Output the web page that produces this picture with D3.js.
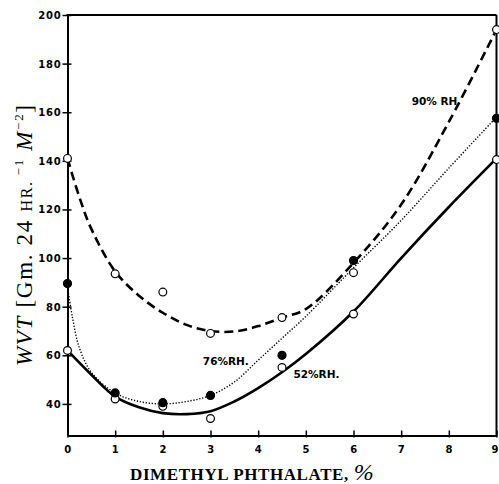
<!DOCTYPE html>
<html><head><meta charset="utf-8">
<script src="https://cdn.jsdelivr.net/npm/d3@7"></script>
<style>
html,body{margin:0;padding:0;background:#fff;}
svg{display:block;}
</style></head>
<body>
<svg id="chart" width="499" height="484"></svg>
<script>
// ---- data ----
const xPoints = [0, 1, 2, 3, 4.5, 6, 9];
const rh90 = [141, 93.5, 86, 69, 75.5, 94, 194];
const rh76 = [89.5, 44.5, 40.5, 43.5, 60, 99, 157.5];
const rh52 = [62, 42, 39, 34, 55, 77, 140.5];

const fit90X = [0, 0.25, 0.5, 1, 1.5, 2, 2.5, 3, 3.5, 4, 4.5, 5, 6, 7, 8, 9];
const fit90Y = [141, 125, 112, 94.5, 84.5, 77.5, 72.5, 70, 69.8, 72, 75.5, 79, 98, 122, 156, 194];
const fit76X = [0, 0.1, 0.25, 0.5, 1, 1.5, 2, 2.5, 3, 3.5, 4, 4.5, 5, 6, 7, 8, 9];
const fit76Y = [88, 76, 63, 53, 44.5, 41, 40, 41, 43.5, 49, 58, 67, 76, 96, 115.5, 137, 158];
const fit52X = [0, 0.5, 1, 1.5, 2, 2.5, 3, 3.5, 4, 4.5, 5, 6, 7, 8, 9];
const fit52Y = [62, 52, 43, 38.6, 36.2, 35.8, 37, 41, 46.5, 53, 60.5, 78, 100, 121, 141];

const xTicks = [0, 1, 2, 3, 4, 5, 6, 7, 8, 9];
const yTicks = [40, 60, 80, 100, 120, 140, 160, 180, 200];
const curveLabels = [
  {text: "90% RH", x: 7.22, y: 163},
  {text: "76%RH.", x: 2.84, y: 56},
  {text: "52%RH.", x: 4.74, y: 50.5}
];

// ---- drawing ----
const svg = d3.select("#chart");
const x = d3.scaleLinear().domain([0, 9]).range([67.5, 496.5]);
const y = d3.scaleLinear().domain([27, 200]).range([435.5, 15]);

const line = d3.line().x(d => x(d[0])).y(d => y(d[1])).curve(d3.curveCatmullRom.alpha(0.5));
function pairs(xs, ys){ return xs.map((v,i)=>[v, ys[i]]); }

// curves
svg.append("path").attr("d", line(pairs(fit90X, fit90Y)))
  .attr("fill","none").attr("stroke","#000").attr("stroke-width",2.6).attr("stroke-dasharray","9,5");
svg.append("path").attr("d", line(pairs(fit76X, fit76Y)))
  .attr("fill","none").attr("stroke","#000").attr("stroke-width",1.4).attr("stroke-dasharray","1.3,1.7");
svg.append("path").attr("d", line(pairs(fit52X, fit52Y)))
  .attr("fill","none").attr("stroke","#000").attr("stroke-width",2.6);

// axes
const gx = svg.append("g").attr("transform", `translate(0,${y(27)})`)
  .call(d3.axisBottom(x).tickValues(xTicks).tickSizeInner(-5).tickSizeOuter(0).tickPadding(10).tickFormat(d3.format("d")));
const gy = svg.append("g").attr("transform", `translate(${x(0)},0)`)
  .call(d3.axisLeft(y).tickValues(yTicks).tickSizeInner(5).tickSizeOuter(0).tickPadding(1).tickFormat(d3.format("d")));
[gx, gy].forEach(g => {
  g.select(".domain").attr("stroke","#000").attr("stroke-width",2);
  g.selectAll(".tick line").attr("stroke","#000").attr("stroke-width",1.5);
  g.selectAll(".tick text").attr("fill","#000")
    .style("font-family","'DejaVu Sans', sans-serif").style("font-weight","bold")
    .style("font-size","10px").style("letter-spacing","0.8px");
});
gx.selectAll(".tick line").attr("y2", -5).attr("y1", 2);
gx.selectAll(".tick text").filter(d => d === 9).attr("text-anchor","end").attr("dx", 1.5).style("letter-spacing","0px");
gy.selectAll(".tick line").attr("x1", 4);
gy.selectAll(".tick text").attr("dy","0.35em");

// top and right frame
svg.append("line").attr("x1", x(0)-1).attr("x2", x(9)).attr("y1", y(200)).attr("y2", y(200))
  .attr("stroke","#000").attr("stroke-width",2);
svg.append("line").attr("x1", x(9)).attr("x2", x(9)).attr("y1", y(200)).attr("y2", y(27))
  .attr("stroke","#000").attr("stroke-width",2);

// markers
function marks(vals, filled){
  svg.append("g").selectAll("circle").data(xPoints.map((v,i)=>[v, vals[i]])).join("circle")
    .attr("cx", d => x(d[0])).attr("cy", d => y(d[1])).attr("r", filled ? 4 : 3.9)
    .attr("fill", filled ? "#000" : "#fff").attr("stroke","#000").attr("stroke-width",1.2);
}
marks(rh90, false);
marks(rh52, false);
marks(rh76, true);

// curve labels
svg.append("g").selectAll("text").data(curveLabels).join("text")
  .attr("x", d => x(d.x)).attr("y", d => y(d.y))
  .style("font-family","'DejaVu Sans', sans-serif").style("font-weight","bold").style("font-size","10.5px")
  .attr("fill","#000").text(d => d.text);

// x title
const xt = svg.append("text").attr("x", 130).attr("y", 480)
  .style("font-family","'Liberation Serif', serif").style("font-weight","bold").style("font-size","17px")
  .style("letter-spacing","0.6px").attr("fill","#000");
xt.append("tspan").text("DIMETHYL PHTHALATE, ");
xt.append("tspan").style("font-style","italic").style("font-weight","normal").style("font-size","24px").text("%");

// y title
const yt = svg.append("text").attr("transform","translate(32,366) rotate(-90)")
  .attr("textLength", 261).attr("lengthAdjust","spacing")
  .style("font-family","'Liberation Serif', serif").style("font-size","23px").attr("fill","#000");
yt.append("tspan").style("font-style","italic").text("WVT");
yt.append("tspan").text(" [Gm. 24 ");
yt.append("tspan").style("font-size","16px").text("HR.");
yt.append("tspan").style("font-size","13px").attr("dy","-9").text(" \u22121");
yt.append("tspan").attr("dy","9").text(" ");
yt.append("tspan").style("font-style","italic").text("M");
yt.append("tspan").style("font-size","13px").attr("dy","-9").text("\u22122");
yt.append("tspan").attr("dy","9").text("]");
</script>
</body></html>
